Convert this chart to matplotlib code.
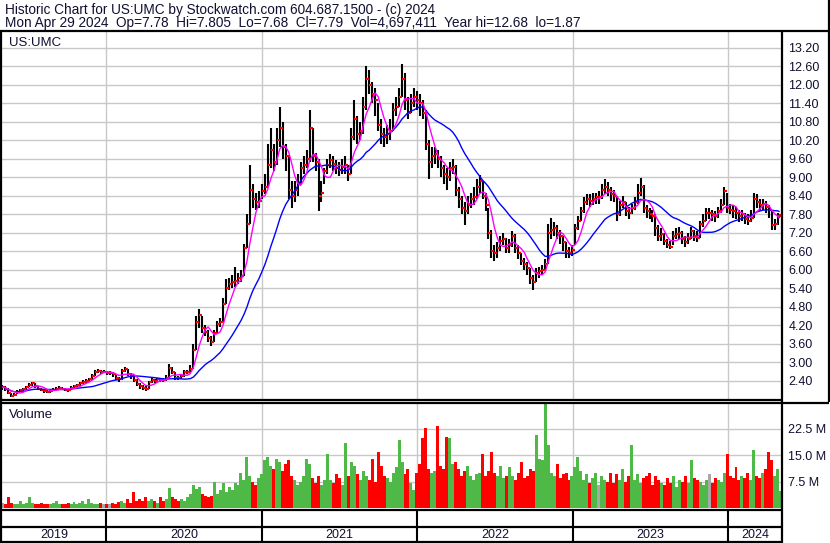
import matplotlib
matplotlib.use("Agg")
import matplotlib.pyplot as plt
from matplotlib.lines import Line2D
from matplotlib.markers import TICKRIGHT
import numpy as np
import pandas as pd

# ---------------- data (weekly) ----------------
dates = list(pd.date_range("2019-05-03", periods=261, freq="W-FRI")) + [pd.Timestamp("2024-04-29")]

closes = [
    2.20, 2.15, 2.02, 1.92, 1.95, 2.05, 2.10, 2.13, 2.20, 2.28,
    2.32, 2.22, 2.15, 2.12, 2.08, 2.05, 2.08, 2.12, 2.15, 2.18,
    2.14, 2.12, 2.10, 2.18, 2.24, 2.26, 2.32, 2.36, 2.40, 2.45,
    2.55, 2.68, 2.72, 2.70, 2.70, 2.66, 2.66, 2.62, 2.50, 2.45,
    2.72, 2.78, 2.62, 2.55, 2.42, 2.30, 2.22, 2.18, 2.15, 2.35,
    2.42, 2.40, 2.45, 2.44, 2.42, 2.50, 2.82, 2.70, 2.50, 2.48,
    2.55, 2.68, 2.70, 2.78, 3.40, 4.30, 4.55, 4.10, 4.00, 3.80,
    3.65, 3.95, 4.25, 4.30, 4.90, 5.40, 5.55, 5.60, 5.65, 5.75,
    5.80, 6.70, 7.50, 8.60, 8.30, 8.20, 8.25, 8.55, 8.70, 9.40,
    9.90, 9.50, 10.20, 10.60, 10.00, 9.70, 8.60, 8.40, 8.60, 8.80,
    9.30, 9.40, 9.60, 10.60, 9.70, 9.50, 8.40, 8.50, 9.20, 9.40,
    9.55, 9.45, 9.30, 9.25, 9.35, 9.40, 9.10, 10.30, 10.90, 10.40,
    10.50, 11.30, 12.20, 12.00, 11.70, 11.50, 10.70, 10.40, 10.30, 10.40,
    10.50, 11.20, 11.30, 11.60, 12.20, 11.50, 11.10, 11.40, 11.60, 11.50,
    11.40, 11.10, 10.10, 9.50, 9.70, 9.75, 9.60, 9.30, 9.10, 9.00,
    9.30, 9.35, 8.60, 8.30, 8.00, 7.90, 8.10, 8.30, 8.35, 8.70,
    8.90, 8.40, 8.10, 7.20, 6.60, 6.55, 6.70, 6.95, 7.00, 6.70,
    6.80, 7.10, 6.70, 6.55, 6.30, 6.20, 6.05, 5.75, 5.60, 5.90,
    5.95, 6.00, 6.20, 7.20, 7.30, 7.35, 7.20, 7.10, 6.90, 6.60,
    6.55, 6.65, 7.35, 7.60, 7.90, 8.20, 8.30, 8.25, 8.30, 8.35,
    8.35, 8.60, 8.70, 8.60, 8.45, 8.40, 7.80, 8.10, 8.20, 7.90,
    7.85, 8.00, 8.20, 8.50, 8.70, 8.00, 7.90, 7.80, 7.75, 7.35,
    7.10, 7.15, 6.95, 6.80, 6.75, 7.10, 7.15, 7.20, 7.00, 6.90,
    7.00, 7.25, 7.10, 7.05, 7.50, 7.60, 7.85, 7.85, 7.80, 7.75,
    7.90, 8.10, 8.55, 8.00, 7.95, 7.90, 7.85, 7.75, 7.80, 7.65,
    7.60, 7.70, 8.30, 8.20, 8.10, 8.15, 8.05, 7.95, 7.45, 7.50,
    7.75, 7.79,
]

highs = [
    2.28, 2.22, 2.16, 2.00, 2.00, 2.10, 2.15, 2.18, 2.25, 2.33,
    2.38, 2.33, 2.22, 2.18, 2.14, 2.10, 2.12, 2.17, 2.20, 2.24,
    2.20, 2.17, 2.15, 2.22, 2.28, 2.31, 2.37, 2.42, 2.45, 2.50,
    2.62, 2.76, 2.80, 2.76, 2.75, 2.72, 2.71, 2.68, 2.60, 2.52,
    2.78, 2.85, 2.78, 2.65, 2.56, 2.45, 2.32, 2.26, 2.22, 2.40,
    2.48, 2.47, 2.50, 2.50, 2.48, 2.60, 2.94, 2.86, 2.68, 2.55,
    2.62, 2.74, 2.76, 2.90, 3.60, 4.50, 4.72, 4.50, 4.20, 4.05,
    3.85, 4.05, 4.35, 4.45, 5.10, 5.70, 5.75, 5.85, 6.10, 5.90,
    6.00, 6.85, 7.80, 9.40, 8.80, 8.50, 8.55, 8.80, 9.10, 10.10,
    10.60, 10.10, 10.60, 11.27, 10.80, 10.10, 9.70, 8.90, 8.90, 9.10,
    9.50, 9.70, 9.90, 11.20, 10.60, 9.80, 9.60, 8.90, 9.30, 9.60,
    9.75, 9.70, 9.55, 9.50, 9.60, 9.70, 9.40, 10.60, 11.50, 11.00,
    10.80, 11.60, 12.60, 12.50, 12.10, 11.90, 11.40, 10.90, 10.60, 10.70,
    10.90, 11.40, 11.60, 11.90, 12.68, 12.40, 11.60, 11.70, 11.90, 11.80,
    11.70, 11.50, 11.20, 10.20, 10.00, 10.00, 9.90, 9.70, 9.40, 9.30,
    9.50, 9.60, 9.40, 8.70, 8.40, 8.20, 8.40, 8.50, 8.70, 8.95,
    9.08, 8.90, 8.50, 8.00, 7.30, 6.80, 6.90, 7.10, 7.20, 7.05,
    7.00, 7.25, 7.15, 6.80, 6.55, 6.40, 6.25, 6.05, 5.85, 6.05,
    6.10, 6.15, 6.35, 7.50, 7.68, 7.55, 7.45, 7.30, 7.10, 6.90,
    6.75, 6.80, 7.50, 7.75, 8.05, 8.35, 8.45, 8.45, 8.50, 8.50,
    8.55, 8.80, 8.94, 8.85, 8.70, 8.60, 8.40, 8.25, 8.40, 8.20,
    8.05, 8.15, 8.35, 8.80, 8.97, 8.75, 8.10, 8.00, 7.95, 7.80,
    7.45, 7.35, 7.20, 7.00, 6.95, 7.25, 7.35, 7.40, 7.25, 7.10,
    7.20, 7.40, 7.30, 7.25, 7.60, 7.80, 8.00, 8.00, 7.95, 7.90,
    8.05, 8.30, 8.70, 8.50, 8.15, 8.10, 8.05, 7.95, 7.95, 7.85,
    7.80, 7.95, 8.50, 8.45, 8.30, 8.30, 8.25, 8.10, 7.95, 7.65,
    7.85, 7.805,
]

lows = [
    2.12, 2.08, 1.98, 1.87, 1.90, 1.97, 2.03, 2.08, 2.12, 2.20,
    2.24, 2.18, 2.10, 2.06, 2.02, 2.00, 2.02, 2.06, 2.10, 2.12,
    2.09, 2.06, 2.05, 2.10, 2.17, 2.20, 2.25, 2.30, 2.34, 2.38,
    2.44, 2.55, 2.64, 2.63, 2.64, 2.60, 2.60, 2.52, 2.42, 2.38,
    2.44, 2.68, 2.56, 2.46, 2.35, 2.22, 2.14, 2.10, 2.08, 2.14,
    2.33, 2.34, 2.38, 2.38, 2.36, 2.40, 2.48, 2.62, 2.44, 2.42,
    2.46, 2.52, 2.63, 2.68, 2.80, 3.40, 4.10, 3.95, 3.85, 3.65,
    3.52, 3.65, 3.95, 4.15, 4.30, 4.90, 5.35, 5.40, 5.45, 5.55,
    5.60, 5.80, 6.70, 7.50, 8.00, 7.95, 8.00, 8.30, 8.45, 8.70,
    9.30, 9.20, 9.40, 10.00, 9.60, 9.20, 8.30, 8.00, 8.20, 8.40,
    8.80, 9.10, 9.30, 9.50, 9.50, 9.20, 7.90, 8.20, 8.80, 9.10,
    9.30, 9.20, 9.10, 9.05, 9.10, 9.10, 8.90, 9.10, 10.20, 10.10,
    10.20, 10.40, 11.20, 11.70, 11.40, 11.00, 10.50, 10.10, 10.00, 10.10,
    10.20, 10.50, 11.00, 11.30, 11.60, 11.20, 10.90, 11.10, 11.30, 11.20,
    11.00, 10.90, 9.90, 8.95, 9.30, 9.45, 9.30, 9.00, 8.80, 8.60,
    8.90, 9.10, 8.40, 8.00, 7.80, 7.46, 7.80, 8.00, 8.10, 8.30,
    8.50, 8.30, 7.90, 7.00, 6.40, 6.30, 6.40, 6.60, 6.80, 6.55,
    6.55, 6.75, 6.55, 6.35, 6.15, 6.00, 5.85, 5.55, 5.35, 5.60,
    5.75, 5.85, 5.95, 6.20, 7.00, 7.10, 7.00, 6.85, 6.60, 6.40,
    6.40, 6.45, 6.80, 7.30, 7.60, 7.85, 8.10, 8.05, 8.10, 8.15,
    8.15, 8.30, 8.45, 8.40, 8.25, 8.20, 7.60, 7.75, 8.00, 7.75,
    7.65, 7.80, 7.95, 8.15, 8.40, 7.85, 7.70, 7.65, 7.55, 7.10,
    6.95, 6.95, 6.80, 6.70, 6.68, 6.80, 7.00, 7.00, 6.85, 6.75,
    6.85, 7.00, 6.95, 6.90, 7.05, 7.40, 7.60, 7.65, 7.60, 7.55,
    7.70, 7.85, 8.10, 7.85, 7.80, 7.70, 7.65, 7.55, 7.60, 7.50,
    7.45, 7.55, 7.70, 8.00, 7.90, 7.95, 7.85, 7.70, 7.30, 7.30,
    7.45, 7.68,
]

volume_m = [
    1.5, 1.0, 3.0, 1.5, 1.2, 1.0, 2.0, 1.2, 1.5, 3.0,
    1.5, 1.2, 1.0, 1.5, 1.0, 1.2, 1.0, 1.5, 2.0, 1.0,
    1.2, 1.0, 1.5, 1.2, 1.8, 1.0, 1.5, 2.0, 1.2, 2.5,
    1.5, 1.2, 1.0, 1.5, 1.2, 1.0, 1.2, 1.5, 1.0, 1.8,
    2.0, 1.5, 2.5, 1.5, 4.5, 2.0, 2.5, 2.0, 3.0, 2.0,
    2.5, 2.0, 1.5, 3.0, 2.0, 2.5, 5.6, 3.0, 2.5, 2.0,
    2.5, 2.0, 3.0, 4.0, 6.5, 5.5, 6.0, 4.0, 3.5, 3.0,
    3.5, 7.5, 4.0, 5.0, 7.0, 4.5, 6.0, 5.0, 7.0, 6.5,
    10.0, 8.0, 14.4, 9.0, 7.5, 6.5, 8.5, 9.5, 13.5, 14.4,
    12.0, 11.0, 14.0, 13.0, 10.5, 12.5, 13.5, 9.0, 8.0, 6.5,
    7.5, 9.0, 14.0, 12.5, 8.5, 7.0, 9.0, 6.5, 8.0, 15.4,
    8.0, 7.0, 9.5, 8.5, 6.5, 18.3, 9.0, 13.0, 12.0, 9.5,
    8.0, 10.5, 9.0, 8.0, 14.0, 7.5, 15.9, 12.0, 9.0, 8.5,
    7.5, 10.0, 11.5, 19.2, 13.0, 9.5, 11.0, 7.0, 5.0, 10.0,
    12.5, 19.7, 22.6, 11.0, 10.0, 10.5, 23.1, 12.0, 11.0, 20.2,
    19.7, 12.5, 13.0, 11.0, 9.0, 10.5, 12.0, 9.0, 8.0, 9.5,
    10.0, 15.4, 9.0, 10.5, 15.9, 10.0, 9.0, 12.0, 8.5, 9.0,
    11.5, 9.0, 8.0, 10.0, 13.0, 8.5, 9.0, 11.0, 10.5, 20.7,
    14.0, 13.5, 30.6, 17.8, 10.0, 9.0, 12.5, 8.5, 9.5, 10.0,
    8.0, 9.0, 11.5, 14.4, 10.5, 8.0, 9.5, 7.0, 8.5, 10.0,
    6.5, 9.0, 8.0, 7.5, 10.0, 7.0, 9.5, 8.0, 11.0, 7.5,
    9.0, 17.8, 8.0, 9.5, 7.0, 8.5, 9.0, 10.0, 6.5, 9.0,
    8.0, 7.0, 6.5, 8.5, 7.0, 9.0, 6.0, 8.0, 7.5, 9.0,
    7.0, 13.5, 8.5, 8.0, 7.5, 6.5, 8.0, 9.5, 7.0, 8.5,
    8.0, 7.5, 10.0, 15.4, 9.0, 8.5, 11.5, 8.0, 9.0, 8.5,
    10.0, 8.0, 16.5, 9.0, 8.5, 10.0, 11.0, 15.9, 13.5, 9.0,
    11.0, 4.7,
]

price_ticks = [2.40, 3.00, 3.60, 4.20, 4.80, 5.40, 6.00, 6.60, 7.20, 7.80,
               8.40, 9.00, 9.60, 10.20, 10.80, 11.40, 12.00, 12.60, 13.20]
vol_ticks = [7.5, 15.0, 22.5]
years = [2019, 2020, 2021, 2022, 2023, 2024]

title1 = "Historic Chart for US:UMC by Stockwatch.com 604.687.1500 - (c) 2024"
title2 = ("Mon Apr 29 2024  Op=7.78  Hi=7.805  Lo=7.68  Cl=7.79  "
          "Vol=4,697,411  Year hi=12.68  lo=1.87")

# ---------------- figure layout ----------------
plt.rcParams['font.family'] = ['Liberation Sans', 'DejaVu Sans']
W, H = 830, 543
fig = plt.figure(figsize=(W / 100, H / 100), dpi=100)
fig.patch.set_facecolor('white')


def rect(x0, y0, x1, y1):
    return [x0 / W, 1 - y1 / H, (x1 - x0) / W, (y1 - y0) / H]


ax_p = fig.add_axes(rect(2, 31, 782, 400))
ax_v = fig.add_axes(rect(2, 402, 782, 508))
ax_s = fig.add_axes(rect(2, 509, 782, 526))
ax_y = fig.add_axes(rect(2, 527, 782, 542))

df = pd.DataFrame({"date": dates, "close": closes, "high": highs,
                   "low": lows, "vol": volume_m})
df["ma_short"] = df["close"].rolling(5, min_periods=1).mean()
df["ma_long"] = df["close"].rolling(20, min_periods=1).mean()

xmin = pd.Timestamp("2019-05-02")
xmax = pd.Timestamp("2024-05-06")
year_starts = [pd.Timestamp(f"{y}-01-01") for y in years[1:]]
grid_c = '#c8c8c8'
text_c = '#101030'

for ax in (ax_p, ax_v, ax_s, ax_y):
    ax.set_xlim(xmin, xmax)
    for s in ax.spines.values():
        s.set_visible(False)
    ax.tick_params(axis='x', which='both', bottom=False, labelbottom=False)

# price panel
ax_p.set_ylim(1.78, 13.75)
ax_p.set_yticks(price_ticks)
ax_p.set_yticklabels([f"{t:.2f}" for t in price_ticks])
ax_p.yaxis.tick_right()
ax_p.tick_params(axis='y', length=0, pad=4.5, labelsize=9, labelcolor=text_c)
ax_p.grid(axis='y', color=grid_c, lw=1.0, zorder=0)
for d in year_starts:
    ax_p.axvline(d, color=grid_c, lw=1.0, zorder=0)

ax_p.vlines(df["date"], df["low"], df["high"], color='black', lw=1.5, zorder=2)
ax_p.plot(df["date"], df["close"], ls='none', marker=TICKRIGHT, ms=2.2,
          mew=1.5, color='red', zorder=3)
ax_p.plot(df["date"], df["ma_long"], color='#0000ff', lw=1.0, zorder=4)
ax_p.plot(df["date"], df["ma_short"], color='#ff00ff', lw=1.0, zorder=5)

# volume panel
ax_v.set_ylim(0, 30)
ax_v.set_yticks(vol_ticks)
ax_v.set_yticklabels([f"{t:.1f} M" for t in vol_ticks])
ax_v.yaxis.tick_right()
ax_v.tick_params(axis='y', length=0, pad=4.5, labelsize=9, labelcolor=text_c)
ax_v.grid(axis='y', color=grid_c, lw=1.0, zorder=0)
for d in year_starts:
    ax_v.axvline(d, color=grid_c, lw=1.0, zorder=0)
chg = df["close"].diff().fillna(0)
vcolors = np.where(chg > 0, '#4fb948', np.where(chg < 0, '#ff0000', '#a8a8a8'))
ax_v.bar(df["date"], df["vol"], width=7, color=vcolors, lw=0, zorder=2)

# blank strip and year row
for ax in (ax_s, ax_y):
    ax.set_ylim(0, 1)
    ax.set_yticks([])
    for d in year_starts:
        ax.axvline(d, color='black', lw=1.5)

bounds = [xmin] + year_starts + [xmax]
for i, y in enumerate(years):
    mid = bounds[i] + (bounds[i + 1] - bounds[i]) / 2
    ax_y.text(mid, 0.45, str(y), ha='center', va='center', fontsize=9,
              color=text_c)

# overlay for frame and header texts
ov = fig.add_axes([0, 0, 1, 1], zorder=10)
ov.set_xlim(0, W)
ov.set_ylim(H, 0)
ov.axis('off')
ov.patch.set_alpha(0)
lw_b = 1.6
segs = [
    ((0, 829), (30.5, 30.5)),
    ((828.5, 828.5), (0, 402)),
    ((782, 782), (30, 543)),
    ((1, 1), (30, 543)),
    ((0, 782), (400, 400)),
    ((0, 829), (402.5, 402.5)),
    ((0, 782), (509.5, 509.5)),
    ((0, 782), (526.5, 526.5)),
    ((0, 782), (542, 542)),
]
for xs, ys in segs:
    ov.add_line(Line2D(xs, ys, color='black', lw=lw_b, solid_capstyle='butt'))

ov.text(5, 14, title1, fontsize=9.8, va='baseline', ha='left', color=text_c)
ov.text(5, 27.5, title2, fontsize=9.8, va='baseline', ha='left', color=text_c)
ov.text(9, 46, "US:UMC", fontsize=9.5, va='baseline', ha='left', color=text_c)
ov.text(9, 418, "Volume", fontsize=9.5, va='baseline', ha='left', color=text_c)

fig.savefig("out.png", dpi=100)
